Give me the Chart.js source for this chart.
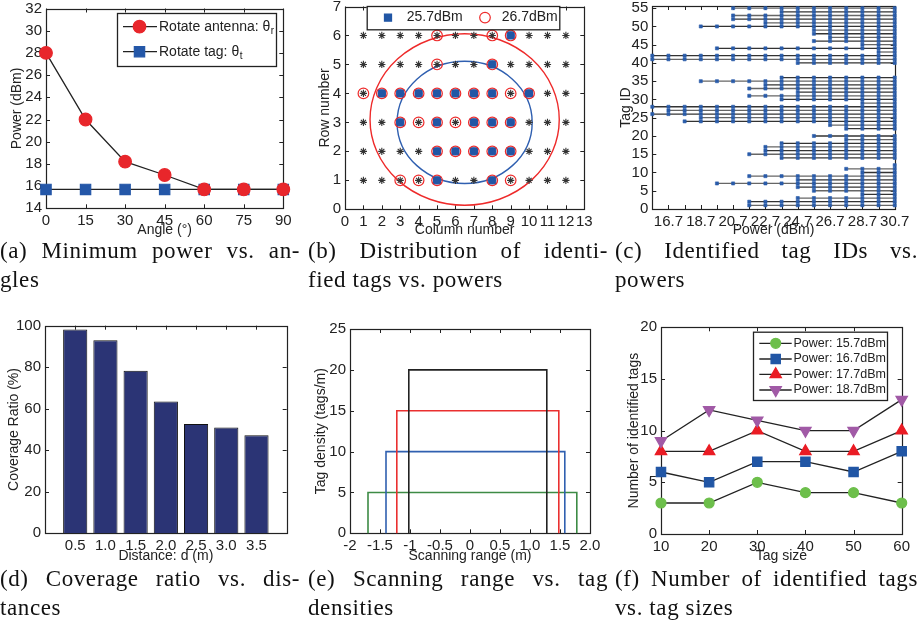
<!DOCTYPE html>
<html>
<head>
<meta charset="utf-8">
<title>Tag identification experiments</title>
<script src="https://cdn.jsdelivr.net/npm/chart.js@4.4.1/dist/chart.umd.min.js"></script>
<style>
  html, body { margin: 0; padding: 0; background: #fff; }
  #fig { position: relative; width: 920px; height: 634px; overflow: hidden; }
  canvas { position: absolute; }
  .cap { position: absolute; font-family: 'Liberation Serif', 'DejaVu Serif', serif; font-size: 23px; letter-spacing: 0.6px; color: #111; line-height: 29px; }
  .cap div:first-child { text-align: justify; text-align-last: justify; }
</style>
</head>
<body>
<div id="fig">
  <canvas id="cA" width="300" height="239" style="left:0;top:0"></canvas>
  <canvas id="cB" width="305" height="239" style="left:300px;top:0"></canvas>
  <canvas id="cC" width="315" height="239" style="left:605px;top:0"></canvas>
  <canvas id="cD" width="300" height="250" style="left:0;top:315px"></canvas>
  <canvas id="cE" width="305" height="250" style="left:300px;top:315px"></canvas>
  <canvas id="cF" width="315" height="250" style="left:605px;top:315px"></canvas>

  <div class="cap" style="left:0;top:236px;width:300px"><div>(a) Minimum power vs. an-</div><div>gles</div></div>
  <div class="cap" style="left:308px;top:236px;width:300px"><div>(b) Distribution of identi-</div><div>fied tags vs. powers</div></div>
  <div class="cap" style="left:615px;top:236px;width:303px"><div>(c) Identified tag IDs vs.</div><div>powers</div></div>
  <div class="cap" style="left:0;top:564px;width:300px"><div>(d) Coverage ratio vs. dis-</div><div>tances</div></div>
  <div class="cap" style="left:308px;top:564px;width:300px"><div>(e) Scanning range vs. tag</div><div>densities</div></div>
  <div class="cap" style="left:615px;top:564px;width:303px"><div>(f) Number of identified tags</div><div>vs. tag sizes</div></div>
</div>

<script>
// ---- data ----

// (a) minimum power vs angle
const angles = [0, 15, 30, 45, 60, 75, 90];
const antennaPower = [28, 22, 18.2, 17, 15.7, 15.7, 15.7];
const tagPower = [15.7, 15.7, 15.7, 15.7, 15.7, 15.7, 15.7];
const angleTicks = [0, 15, 30, 45, 60, 75, 90];
const powerTicksA = [14, 16, 18, 20, 22, 24, 26, 28, 30, 32];

// (b) tag grid, identified tags at two powers [column, row]
const gridCols = [1, 2, 3, 4, 5, 6, 7, 8, 9, 10, 11, 12];
const gridRows = [1, 2, 3, 4, 5, 6];
const found257 = [[9,6],[8,5],[2,4],[3,4],[4,4],[5,4],[6,4],[7,4],[8,4],[10,4],
  [3,3],[5,3],[7,3],[8,3],[9,3],[5,2],[6,2],[7,2],[8,2],[9,2],[5,1],[8,1]];
const found267 = [[5,6],[8,6],[9,6],[5,5],[8,5],[1,4],[2,4],[3,4],[4,4],[5,4],[6,4],[7,4],[8,4],[9,4],[10,4],
  [3,3],[4,3],[5,3],[6,3],[7,3],[8,3],[9,3],[5,2],[6,2],[7,2],[8,2],[9,2],[3,1],[4,1],[5,1],[8,1],[9,1]];
const ringCenterX = [6.5, 6.5];
const ringCenterY = [3.0, 3.1];
const ringRadiusX = [3.67, 5.14];
const ringRadiusY = [2.11, 2.96];
const colTicks = [0,1,2,3,4,5,6,7,8,9,10,11,12,13];
const rowTicks = [0,1,2,3,4,5,6,7];

// (c) lowest power at which each tag is identified (null = never)
const powerLevels = [15.7,16.7,17.7,18.7,19.7,20.7,21.7,22.7,23.7,24.7,25.7,26.7,27.7,28.7,29.7,30.7];
const tagIds = [1,2,3,4,5,6,7,8,9,10,11,12,13,14,15,16,17,18,19,20,21,22,23,24,25,26,27,28,
  29,30,31,32,33,34,35,36,37,38,39,40,41,42,43,44,45,46,47,48,49,50,51,52,53,54,55];
const tagMinPower = [21.7,21.7,24.7,28.7,25.7,24.7,19.7,24.7,21.7,28.7,27.7,30.7,null,23.7,21.7,22.7,22.7,23.7,27.7,25.7,
  null,27.7,26.7,17.7,18.7,15.7,16.7,15.7,28.7,23.7,21.7,24.7,21.7,22.7,18.7,23.7,null,null,null,24.7,
  15.7,15.7,29.7,19.7,28.7,25.7,26.7,25.7,25.7,18.7,22.7,20.7,20.7,23.7,20.7];
const tagTicks = [0,5,10,15,20,25,30,35,40,45,50,55];

// (d) coverage ratio vs distance
const distances = [0.5, 1.0, 1.5, 2.0, 2.5, 3.0, 3.5];
const coverage = [98.2, 93, 78.3, 63.5, 52.7, 51, 47.2];
const coverageTicks = [0, 20, 40, 60, 80, 100];

// (e) scanning range per tag density
const densities = [5, 10, 15, 20];
const rangeStart = [-1.7, -1.4, -1.22, -1.02];
const rangeEnd = [1.78, 1.58, 1.48, 1.28];
const rangeTicks = [-2, -1.5, -1, -0.5, 0, 0.5, 1, 1.5, 2];
const rangeTickLabels = ['-2', '-1.5', '-1', '-0.5', '0', '0.5', '1.0', '1.5', '2.0'];
const densityTicks = [0, 5, 10, 15, 20, 25];

// (f) identified tags vs tag size
const tagSizes = [10, 20, 30, 40, 50, 60];
const tags157 = [3, 3, 5, 4, 4, 3];
const tags167 = [6, 5, 7, 7, 6, 8];
const tags177 = [8, 8, 10, 8, 8, 10];
const tags187 = [9, 12, 11, 10, 10, 13];
const sizeTicks = [10, 20, 30, 40, 50, 60];
const countTicks = [0, 5, 10, 15, 20];

// ---- styles ----
const FONT = "'Liberation Sans', Arial, sans-serif";
const INK = '#222';
Chart.defaults.font.family = FONT;
Chart.defaults.font.size = 15;
Chart.defaults.color = INK;
Chart.defaults.animation = false;
Chart.defaults.responsive = false;

const mkRedCircle = { style: 'circle', r: 6.3, color: '#e8262b' };
const mkBlueSquare = { style: 'rect', r: 7.3, color: '#2457a8' };
const mkGreen = { style: 'circle', r: 5, color: '#6dbf4b' };
const mkBlue = { style: 'rect', r: 6.6, color: '#2156a5' };
const mkRedTri = { style: 'triangle', r: 6.6, color: '#ea1c24' };
const mkPurple = { style: 'triangle', r: 6.6, color: '#a15aa6', down: true };
const mkGrid = { style: 'star', r: 3.6, color: '#333' };
const mkFound257 = { style: 'rect', r: 5, color: '#2156a5' };
const mkFound267 = { style: 'circle', r: 5.3, color: '#ee2a2a', fill: false };

function pointOpts(m) {
  return {
    pointStyle: m.style, pointRadius: m.r, pointHoverRadius: m.r,
    pointRotation: m.down ? 180 : 0,
    pointBackgroundColor: m.fill === false ? 'rgba(0,0,0,0)' : m.color,
    pointBorderColor: m.color, pointBorderWidth: 1.2
  };
}

function drawMarker(ctx, m, x, y) {
  ctx.save();
  ctx.fillStyle = m.color; ctx.strokeStyle = m.color; ctx.lineWidth = 1.2;
  ctx.beginPath();
  const r = m.r;
  if (m.style === 'circle') ctx.arc(x, y, r, 0, Math.PI * 2);
  else if (m.style === 'rect') { const s = r * Math.SQRT1_2; ctx.rect(x - s, y - s, 2 * s, 2 * s); }
  else if (m.style === 'triangle') {
    const d = m.down ? -1 : 1;
    ctx.moveTo(x, y - d * r);
    ctx.lineTo(x + 0.866 * r, y + d * 0.5 * r);
    ctx.lineTo(x - 0.866 * r, y + d * 0.5 * r);
    ctx.closePath();
  }
  if (m.fill !== false) ctx.fill();
  ctx.stroke();
  ctx.restore();
}

// matlab-ish box with inward ticks on all four sides
const frame = {
  id: 'frame',
  beforeDatasetsDraw(chart) {
    const { ctx, chartArea: a, scales: { x, y } } = chart;
    ctx.save();
    ctx.strokeStyle = INK; ctx.lineWidth = 1;
    ctx.beginPath();
    x.ticks.forEach(t => {
      const p = Math.round(x.getPixelForValue(t.value)) + 0.5;
      ctx.moveTo(p, a.bottom); ctx.lineTo(p, a.bottom - 4);
      ctx.moveTo(p, a.top); ctx.lineTo(p, a.top + 4);
    });
    y.ticks.forEach(t => {
      const p = Math.round(y.getPixelForValue(t.value)) + 0.5;
      ctx.moveTo(a.left, p); ctx.lineTo(a.left + 4, p);
      ctx.moveTo(a.right, p); ctx.lineTo(a.right - 4, p);
    });
    ctx.stroke();
    ctx.lineWidth = 1.2;
    ctx.strokeRect(Math.round(a.left) + 0.5, Math.round(a.top) + 0.5,
      Math.round(a.right) - Math.round(a.left), Math.round(a.bottom) - Math.round(a.top));
    ctx.restore();
  }
};

// legends and rings, keyed by canvas id (set before the charts are built)
const legends = {
  cA: { box: [117, 13, 159, 53], size: 14, items: [
    { y: 26.7, line: [123, 157], mx: 139.5, tx: 159, marker: mkRedCircle, text: 'Rotate antenna: \u03b8', sub: 'r' },
    { y: 51.7, line: [123, 157], mx: 139.5, tx: 159, marker: mkBlueSquare, text: 'Rotate tag: \u03b8', sub: 't' }
  ] },
  cB: { box: [66.7, 6, 192.6, 23.3], size: 14, items: [
    { y: 17.6, mx: 88, tx: 106.7, marker: { style: 'rect', r: 5, color: '#2156a5' }, text: '25.7dBm' },
    { y: 17.6, mx: 185, tx: 201.7, marker: mkFound267, text: '26.7dBm' }
  ] },
  cF: { box: [148, 16.7, 134, 68.3], size: 12.5, items: [
    { y: 28.3, line: [154.3, 186.7], mx: 170.7, tx: 188.5, marker: mkGreen, text: 'Power: 15.7dBm' },
    { y: 44, line: [154.3, 186.7], mx: 170.7, tx: 188.5, marker: mkBlue, text: 'Power: 16.7dBm' },
    { y: 59.3, line: [154.3, 186.7], mx: 170.7, tx: 188.5, marker: mkRedTri, text: 'Power: 17.7dBm' },
    { y: 75, line: [154.3, 186.7], mx: 170.7, tx: 188.5, marker: mkPurple, text: 'Power: 18.7dBm' }
  ] }
};
const rings = {
  cB: { cx: ringCenterX, cy: ringCenterY, rx: ringRadiusX, ry: ringRadiusY, colors: ['#2f5fb0', '#ee2a2a'] }
};

const extras = {
  id: 'extras',
  beforeDatasetsDraw(chart) {
    const r = rings[chart.canvas.id];
    if (!r) return;
    const { ctx, scales: { x, y } } = chart;
    ctx.save();
    ctx.lineWidth = 1.4;
    r.cx.forEach((cx, i) => {
      const px = x.getPixelForValue(cx), py = y.getPixelForValue(r.cy[i]);
      const rx = Math.abs(x.getPixelForValue(cx + r.rx[i]) - px);
      const ry = Math.abs(y.getPixelForValue(r.cy[i] + r.ry[i]) - py);
      ctx.strokeStyle = r.colors[i];
      ctx.beginPath(); ctx.ellipse(px, py, rx, ry, 0, 0, Math.PI * 2); ctx.stroke();
    });
    ctx.restore();
  },
  afterDraw(chart) {
    const L = legends[chart.canvas.id];
    if (!L) return;
    const ctx = chart.ctx;
    const [bx, by, bw, bh] = L.box;
    ctx.save();
    ctx.fillStyle = '#fff'; ctx.fillRect(bx, by, bw, bh);
    ctx.strokeStyle = INK; ctx.lineWidth = 1.3; ctx.strokeRect(bx + 0.5, by + 0.5, bw, bh);
    ctx.textBaseline = 'middle';
    L.items.forEach(it => {
      if (it.line) {
        ctx.strokeStyle = INK; ctx.lineWidth = 1.3;
        ctx.beginPath(); ctx.moveTo(it.line[0], it.y); ctx.lineTo(it.line[1], it.y); ctx.stroke();
      }
      drawMarker(ctx, it.marker, it.mx, it.y);
      ctx.font = L.size + 'px ' + FONT;
      ctx.fillStyle = INK;
      ctx.fillText(it.text, it.tx, it.y);
      if (it.sub) {
        const w = ctx.measureText(it.text).width;
        ctx.font = (L.size - 4) + 'px ' + FONT;
        ctx.fillText(it.sub, it.tx + w + 0.5, it.y + 5);
      }
    });
    ctx.restore();
  }
};
Chart.register(frame, extras);

function axis(o) {
  return {
    type: 'linear', min: o.min, max: o.max, offset: false,
    grid: { display: false, drawTicks: false, offset: false },
    border: { display: false },
    ticks: { padding: 4, autoSkip: false, maxRotation: 0, callback: o.fmt || (v => String(v)) },
    title: { display: true, text: o.title, padding: o.tpad, font: { size: 14 } },
    afterBuildTicks: s => { s.ticks = o.ticks.map(v => ({ value: v })); },
    afterFit: s => {
      if (o.w != null) s.width = o.w;
      if (o.h != null) s.height = o.h;
      s.paddingLeft = s.paddingRight = s.paddingTop = s.paddingBottom = 0;
    }
  };
}

function opts(g, x, y) {
  return {
    layout: { padding: { left: 0, top: g.top, right: g.right, bottom: 0 } },
    plugins: { legend: { display: false }, tooltip: { enabled: false } },
    scales: { x: x, y: y }
  };
}

function xy(xs, ys) { return xs.map((v, i) => ({ x: v, y: ys[i] })); }
function pairs(list) { return list.map(p => ({ x: p[0], y: p[1] })); }

// ---- (a) ----
new Chart(document.getElementById('cA'), {
  type: 'scatter',
  data: { datasets: [
    Object.assign({ data: xy(angles, antennaPower), showLine: true, borderColor: INK, borderWidth: 1.3, clip: false }, pointOpts(mkRedCircle)),
    Object.assign({ data: xy(angles, tagPower), showLine: true, borderColor: INK, borderWidth: 1.3, clip: false }, pointOpts(mkBlueSquare))
  ] },
  options: opts({ top: 5, right: 16.7 },
    axis({ min: 0, max: 90, ticks: angleTicks, title: 'Angle (\u00b0)', tpad: { top: 0, bottom: 0 }, h: 30.7 }),
    axis({ min: 14, max: 32, ticks: powerTicksA, title: 'Power (dBm)', tpad: { top: 9, bottom: 0 }, w: 46 }))
});

// ---- (b) ----
const gridPts = [];
gridRows.forEach(r => gridCols.forEach(c => gridPts.push({ x: c, y: r })));
new Chart(document.getElementById('cB'), {
  type: 'scatter',
  data: { datasets: [
    Object.assign({ data: pairs(found267), clip: false }, pointOpts(mkFound267)),
    Object.assign({ data: pairs(found257), clip: false }, pointOpts(mkFound257)),
    Object.assign({ data: gridPts, clip: false }, pointOpts(mkGrid), { pointBorderWidth: 1.1 })
  ] },
  options: opts({ top: 4, right: 20.7 },
    axis({ min: 0, max: 13, ticks: colTicks, title: 'Column number', tpad: { top: 0, bottom: 0 }, h: 29.7 }),
    axis({ min: 0, max: 7, ticks: rowTicks, title: 'Row number', tpad: { top: 16.6, bottom: 0 }, w: 45 }))
});

// ---- (c) ----
const tagSets = [];
tagIds.forEach((id, i) => {
  const p0 = tagMinPower[i];
  if (p0 == null) return;
  const pts = powerLevels.filter(p => p >= p0 - 0.01).map(p => ({ x: p, y: id }));
  tagSets.push({
    data: pts, showLine: true, borderColor: i % 2 ? '#333' : '#666', borderWidth: 1.3, clip: false,
    pointStyle: 'rect', pointRadius: 2.2, pointBackgroundColor: '#2a5caa', pointBorderColor: '#2a5caa', pointBorderWidth: 0.6
  });
});
new Chart(document.getElementById('cC'), {
  type: 'scatter',
  data: { datasets: tagSets },
  options: opts({ top: 6, right: 25.3 },
    axis({ min: 15.7, max: 30.7, ticks: powerLevels, title: 'Power (dBm)', tpad: { top: 0, bottom: 0 }, h: 30,
      fmt: (v, i) => (i % 2 === 1 ? v.toFixed(1) : '') }),
    axis({ min: 0, max: 55.6, ticks: tagTicks, title: 'Tag ID', tpad: { top: 12.6, bottom: 0 }, w: 47.3 }))
});

// ---- (d) ----
new Chart(document.getElementById('cD'), {
  type: 'bar',
  data: { datasets: [{
    data: xy(distances, coverage), backgroundColor: '#2b3475', borderColor: '#111', borderWidth: 1,
    barPercentage: 1, categoryPercentage: 0.8
  }] },
  options: opts({ top: 10.7, right: 13.3 },
    axis({ min: 0, max: 4, ticks: distances, title: 'Distance: d (m)', tpad: { top: 0, bottom: 0 }, h: 31.7,
      fmt: v => v.toFixed(1) }),
    axis({ min: 0, max: 100, ticks: coverageTicks, title: 'Coverage Ratio (%)', tpad: { top: 5.6, bottom: 0 }, w: 45 }))
});

// ---- (e) ----
const rangeColors = ['#3d8b45', '#3060b0', '#ea3030', '#222'];
const rangeSets = densities.map((d, i) => ({
  data: [{ x: rangeStart[i], y: 0 }, { x: rangeStart[i], y: d }, { x: rangeEnd[i], y: d }, { x: rangeEnd[i], y: 0 }],
  showLine: true, borderColor: rangeColors[i], borderWidth: 1.6, pointRadius: 0, clip: false
})).reverse();
new Chart(document.getElementById('cE'), {
  type: 'scatter',
  data: { datasets: rangeSets },
  options: opts({ top: 14, right: 15 },
    axis({ min: -2, max: 2, ticks: rangeTicks, title: 'Scanning range (m)', tpad: { top: 0, bottom: 0 }, h: 31.7,
      fmt: (v, i) => rangeTickLabels[i] }),
    axis({ min: 0, max: 25, ticks: densityTicks, title: 'Tag density (tags/m)', tpad: { top: 12.6, bottom: 0 }, w: 50 }))
});

// ---- (f) ----
new Chart(document.getElementById('cF'), {
  type: 'scatter',
  data: { datasets: [
    Object.assign({ data: xy(tagSizes, tags187), showLine: true, borderColor: INK, borderWidth: 1.3, clip: false }, pointOpts(mkPurple)),
    Object.assign({ data: xy(tagSizes, tags177), showLine: true, borderColor: INK, borderWidth: 1.3, clip: false }, pointOpts(mkRedTri)),
    Object.assign({ data: xy(tagSizes, tags167), showLine: true, borderColor: INK, borderWidth: 1.3, clip: false }, pointOpts(mkBlue)),
    Object.assign({ data: xy(tagSizes, tags157), showLine: true, borderColor: INK, borderWidth: 1.3, clip: false }, pointOpts(mkGreen))
  ] },
  options: opts({ top: 12.3, right: 18.3 },
    axis({ min: 10, max: 60, ticks: sizeTicks, title: 'Tag size', tpad: { top: 0, bottom: 0 }, h: 31 }),
    axis({ min: 0, max: 20, ticks: countTicks, title: 'Number of identified tags', tpad: { top: 20.6, bottom: 0 }, w: 56 }))
});
</script>
</body>
</html>
